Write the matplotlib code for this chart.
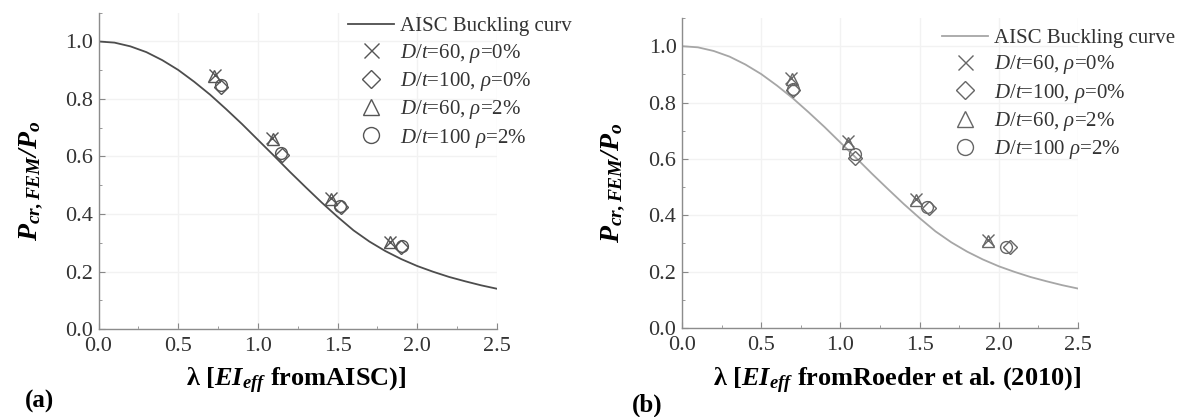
import numpy as np
import matplotlib
matplotlib.use('Agg')
import matplotlib.pyplot as plt
from matplotlib.ticker import MultipleLocator

plt.rcParams['font.family'] = ['Liberation Serif', 'DejaVu Serif']
plt.rcParams['mathtext.fontset'] = 'custom'
plt.rcParams['mathtext.rm'] = 'Liberation Serif'
plt.rcParams['mathtext.it'] = 'Liberation Serif:italic'
plt.rcParams['mathtext.bf'] = 'Liberation Serif:bold'
plt.rcParams['mathtext.bfit'] = 'Liberation Serif:italic:bold'

# AISC column curve, P/Po against slenderness
lam_curve = [0.0, 0.1, 0.2, 0.3, 0.4, 0.5, 0.6, 0.7, 0.8, 0.9, 1.0, 1.1, 1.2,
             1.3, 1.4, 1.5, 1.6, 1.7, 1.8, 1.9, 2.0, 2.1, 2.2, 2.3, 2.4, 2.5]
p_curve = [1.000, 0.996, 0.983, 0.963, 0.935, 0.901, 0.860, 0.815, 0.765,
           0.713, 0.658, 0.603, 0.547, 0.493, 0.440, 0.390, 0.343, 0.304,
           0.271, 0.243, 0.219, 0.199, 0.181, 0.166, 0.152, 0.140]

# FEM results, (a) EIeff from AISC
a_x60_r0 = ([0.73, 1.09, 1.46, 1.83], [0.884, 0.664, 0.455, 0.304])
a_x100_r0 = ([0.77, 1.15, 1.52, 1.90], [0.843, 0.606, 0.424, 0.285])
a_x60_r2 = ([0.727, 1.092, 1.461, 1.826], [0.879, 0.660, 0.451, 0.301])
a_x100_r2 = ([0.768, 1.143, 1.516, 1.901], [0.847, 0.611, 0.428, 0.287])

# FEM results, (b) EIeff from Roeder et al. (2010)
b_x60_r0 = ([0.69, 1.05, 1.48, 1.93], [0.887, 0.662, 0.458, 0.313])
b_x100_r0 = ([0.70, 1.09, 1.56, 2.07], [0.843, 0.603, 0.426, 0.287])
b_x60_r2 = ([0.692, 1.050, 1.478, 1.933], [0.882, 0.657, 0.453, 0.309])
b_x100_r2 = ([0.702, 1.091, 1.546, 2.043], [0.849, 0.616, 0.429, 0.288])

labels = [r'$D/t$=60, $\rho$=0%', r'$D/t$=100, $\rho$=0%',
          r'$D/t$=60, $\rho$=2%', r'$D/t$=100 $\rho$=2%']

fig = plt.figure(figsize=(11.87, 4.17), dpi=100)
ax_a = fig.add_axes([0.0830, 0.211, 0.3357, 0.7585])
ax_b = fig.add_axes([0.5746, 0.2134, 0.3336, 0.7434])


def draw_panel(ax, series, line_color, mk_color, curve_label, xlabel,
               leg_anchor, xlab_pos, ylab_x):
    ax.plot(lam_curve, p_curve, color=line_color, lw=1.3, label=curve_label)
    markers = ['x', 'D', '^', 'o']
    sizes = [8, 7, 8.5, 8.5]
    for (xs, ys), m, s, lab in zip(series, markers, sizes, labels):
        ax.plot(xs, ys, linestyle='none', marker=m, ms=s, mfc='none',
                mec=mk_color, mew=1.0, label=lab)
    ax.set_xlim(0, 2.5)
    ax.set_ylim(0, 1.1)
    ax.xaxis.set_major_locator(MultipleLocator(0.5))
    ax.xaxis.set_minor_locator(MultipleLocator(0.25))
    ax.yaxis.set_minor_locator(MultipleLocator(0.1))
    ax.set_yticks([0.0, 0.2, 0.4, 0.6, 0.8, 1.0])
    ax.xaxis.set_major_formatter(plt.FuncFormatter(lambda v, p: f'{v:.1f}'))
    ax.yaxis.set_major_formatter(plt.FuncFormatter(lambda v, p: f'{v:.1f}'))
    ax.tick_params(which='major', direction='in', length=4, width=0.8,
                   color='#888888', labelsize=16, labelcolor='#333333', pad=4)
    ax.tick_params(axis='x', which='major', pad=6)
    ax.tick_params(which='minor', direction='in', length=2.5, width=0.6,
                   color='#888888')
    for side in ['top', 'right']:
        ax.spines[side].set_visible(False)
    for side in ['left', 'bottom']:
        ax.spines[side].set_color('#8c8c8c')
        ax.spines[side].set_linewidth(1.0)
    ax.grid(True, which='major', color='#f2f2f2', lw=1.0)
    ax.set_axisbelow(True)

    ax.set_ylabel(r'$\mathbfit{P}_{\mathbfit{cr,FEM}}\mathbfit{/P}_{\mathbfit{o}}$',
                  fontsize=20)
    ax.yaxis.set_label_coords(ylab_x, 0.47)
    ax.set_xlabel(xlabel, fontsize=19, fontweight='bold')
    ax.xaxis.set_label_coords(*xlab_pos)

    leg = ax.legend(loc='upper left', bbox_to_anchor=leg_anchor, frameon=False,
                    fontsize=15, borderpad=0, borderaxespad=0,
                    handlelength=2.2, handletextpad=0.3, labelspacing=0.26,
                    markerscale=1.35)
    for t in leg.get_texts():
        t.set_color('#333333')


draw_panel(ax_a, [a_x60_r0, a_x100_r0, a_x60_r2, a_x100_r2],
           '#4d4d4d', '#555555', 'AISC Buckling curv',
           r'λ [$\mathbfit{EI}_{\mathbfit{eff}}$ fromAISC)]',
           (0.626, 0.988), (0.496, -0.118), -0.135)
draw_panel(ax_b, [b_x60_r0, b_x100_r0, b_x60_r2, b_x100_r2],
           '#a6a6a6', '#666666', 'AISC Buckling curve',
           r'λ [$\mathbfit{EI}_{\mathbfit{eff}}$ fromRoeder et al. (2010)]',
           (0.657, 0.967), (0.543, -0.123), -0.138)

fig.text(25 / 1187, 1 - 401 / 417, '(a)', fontsize=18, fontweight='bold',
         va='center', ha='left')
fig.text(632 / 1187, 1 - 405 / 417, '(b)', fontsize=18, fontweight='bold',
         va='center', ha='left')

fig.savefig('out.png', dpi=100)
